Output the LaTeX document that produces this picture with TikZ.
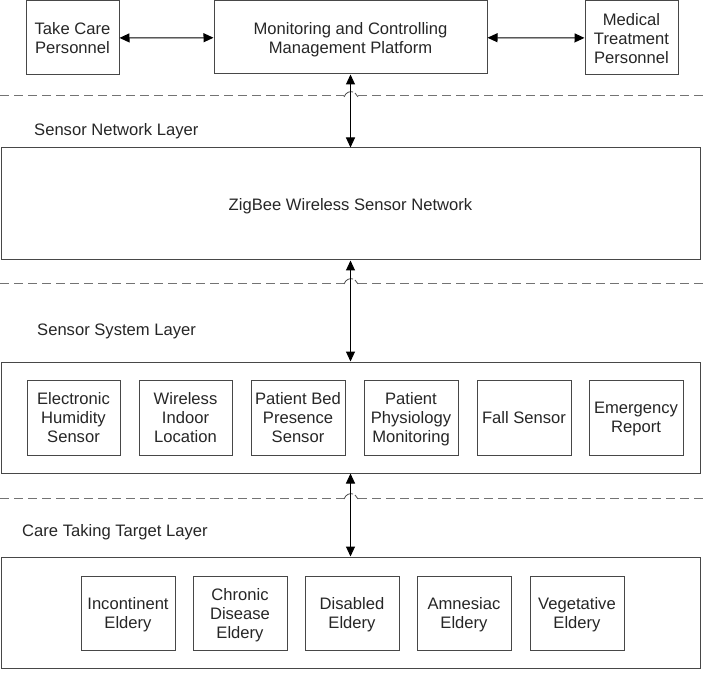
\documentclass[tikz,border=0pt]{standalone}
\usepackage{fontspec}
\setmainfont{Liberation Sans}
\usetikzlibrary{arrows.meta}
\begin{document}
\begin{tikzpicture}[x=1pt,y=-1pt,
  box/.style={draw=black!72,line width=1pt,inner sep=0pt,align=center,text depth=0pt,
    font=\fontsize{16.6}{19}\selectfont,text=black!85},
  conn/.style={line width=1pt,black,{Triangle[length=10pt,width=9pt]}-{Triangle[length=10pt,width=9pt]}},
  dashline/.style={draw=black!55,line width=1pt,dash pattern=on 9pt off 5pt},
  hop/.style={draw=black!70,line width=0.8pt},
  layer/.style={anchor=west,inner sep=0pt,text depth=0pt,font=\fontsize{16.6}{19}\selectfont,text=black!85}]
\useasboundingbox (0,0) rectangle (707,679);
% top row
\node[box,minimum width=93pt,minimum height=74pt] (care) at (72.5,38) {Take Care\\Personnel};
\node[box,minimum width=273pt,minimum height=73pt] (mon) at (350.5,37.5) {Monitoring and Controlling\\Management Platform};
\node[box,minimum width=93pt,minimum height=74pt] (med) at (631.5,38) {Medical\\Treatment\\Personnel};
\draw[conn] (care) -- (mon);
\draw[conn] (mon) -- (med);
% dashed separators with hops
\foreach \y in {96,283,498}{
  \draw[dashline] (0,\y) -- (344,\y);
  \draw[dashline] (358,\y) -- (707,\y);
  \draw[hop] (344,\y+1) .. controls (346,\y-4) and (350,\y-5) .. (353,\y-4);
  \draw[hop] (355,\y-3) -- (358,\y+1);
}
% layers
\node[layer] (l1) at (34,129) {Sensor Network Layer};
\node[box,minimum width=699pt,minimum height=112pt] (zig) at (350.5,204) {ZigBee Wireless Sensor Network};
\node[layer] (l2) at (37,330) {Sensor System Layer};
\node[box,minimum width=699pt,minimum height=111pt] (sens) at (350.5,417.5) {};
\node[layer] (l3) at (22,530) {Care Taking Target Layer};
\node[box,minimum width=699pt,minimum height=111pt] (tgt) at (350.5,612.5) {};
% vertical connectors
\draw[conn] (mon.south) -- (zig.north);
\draw[conn] (zig.south) -- (sens.north);
\draw[conn] (sens.south) -- (tgt.north);
% sensor boxes
\node[box,minimum width=93pt,minimum height=75pt] (s1) at (73.5,417.5) {Electronic\\Humidity\\Sensor};
\node[box,minimum width=93pt,minimum height=75pt] (s2) at (185.5,417.5) {Wireless\\Indoor\\Location};
\node[box,minimum width=94pt,minimum height=75pt] (s3) at (298,417.5) {Patient Bed\\Presence\\Sensor};
\node[box,minimum width=94pt,minimum height=75pt] (s4) at (411,417.5) {Patient\\Physiology\\Monitoring};
\node[box,minimum width=94pt,minimum height=75pt] (s5) at (524,417.5) {Fall Sensor};
\node[box,minimum width=94pt,minimum height=75pt] (s6) at (636,417.5) {Emergency\\Report};
% target boxes
\node[box,minimum width=94pt,minimum height=74pt] (t1) at (128,613) {Incontinent\\Eldery};
\node[box,minimum width=94pt,minimum height=74pt] (t2) at (240,613) {Chronic\\Disease\\Eldery};
\node[box,minimum width=94pt,minimum height=74pt] (t3) at (352,613) {Disabled\\Eldery};
\node[box,minimum width=94pt,minimum height=74pt] (t4) at (464,613) {Amnesiac\\Eldery};
\node[box,minimum width=94pt,minimum height=74pt] (t5) at (577,613) {Vegetative\\Eldery};
\end{tikzpicture}
\end{document}
